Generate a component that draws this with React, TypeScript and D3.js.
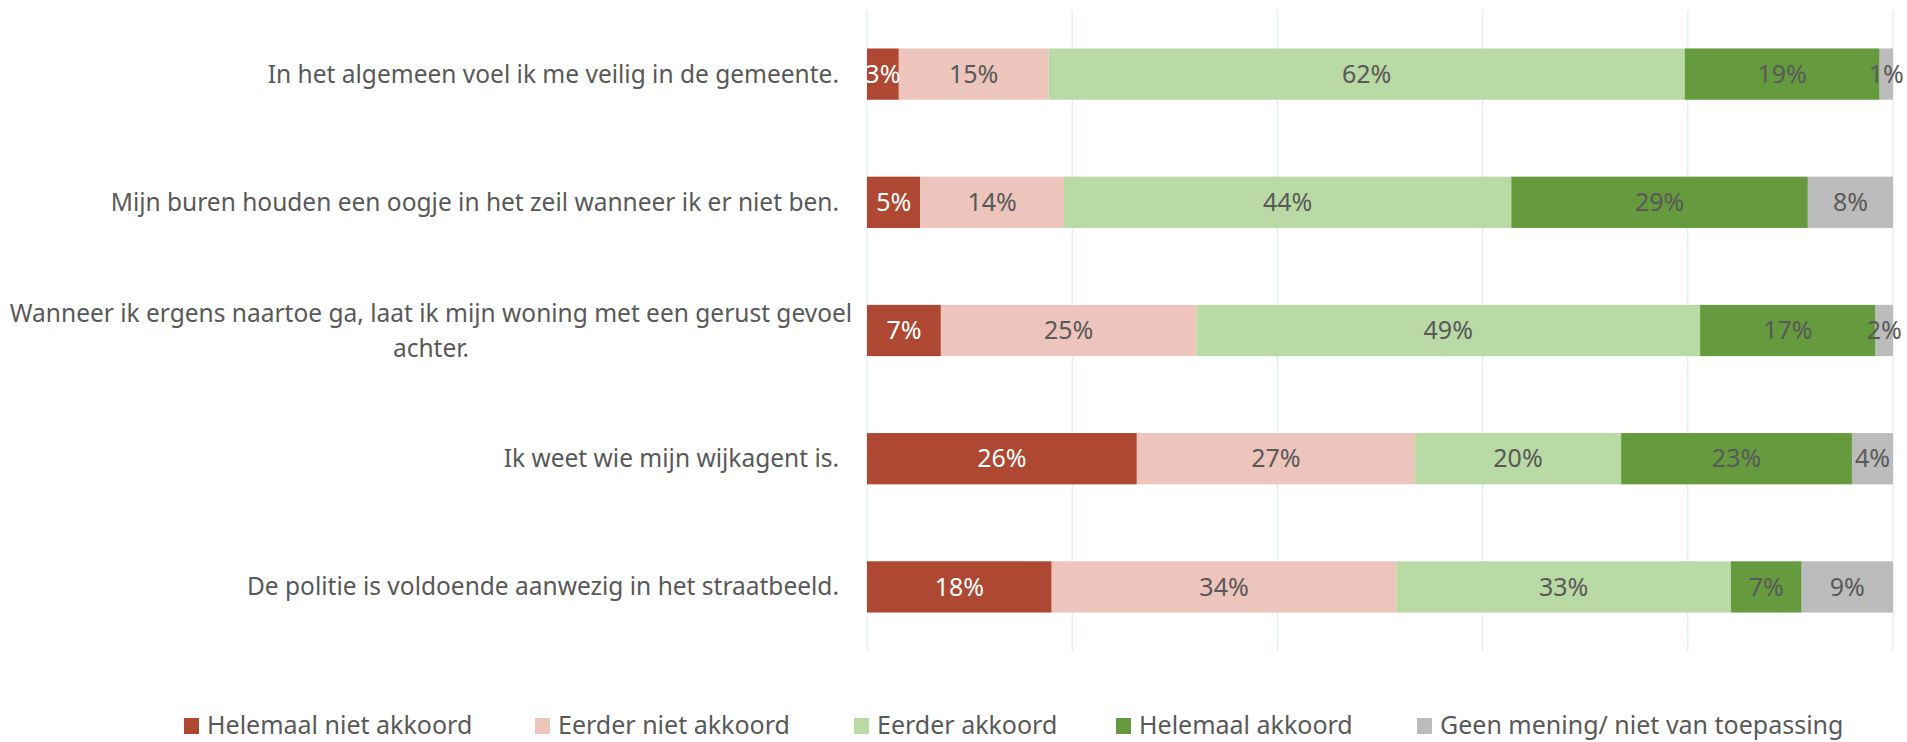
import React from "react";
import * as d3 from "d3";

const categories = [
  "In het algemeen voel ik me veilig in de gemeente.",
  "Mijn buren houden een oogje in het zeil wanneer ik er niet ben.",
  "Wanneer ik ergens naartoe ga, laat ik mijn woning met een gerust gevoel achter.",
  "Ik weet wie mijn wijkagent is.",
  "De politie is voldoende aanwezig in het straatbeeld.",
];
const categoryLines = [
  ["In het algemeen voel ik me veilig in de gemeente."],
  ["Mijn buren houden een oogje in het zeil wanneer ik er niet ben."],
  ["Wanneer ik ergens naartoe ga, laat ik mijn woning met een gerust gevoel", "achter."],
  ["Ik weet wie mijn wijkagent is."],
  ["De politie is voldoende aanwezig in het straatbeeld."],
];
const seriesNames = [
  "Helemaal niet akkoord",
  "Eerder niet akkoord",
  "Eerder akkoord",
  "Helemaal akkoord",
  "Geen mening/ niet van toepassing",
];
const helemaalNiet = [3.1, 5.2, 7.2, 26.3, 18.0];
const eerderNiet = [14.6, 14.0, 24.9, 27.1, 33.6];
const eerderAkkoord = [62.0, 43.6, 49.1, 20.1, 32.6];
const helemaalAkkoord = [19.0, 28.9, 17.1, 22.5, 6.9];
const geenMening = [1.3, 8.3, 1.7, 4.0, 8.9];
const xTicks = [0, 20, 40, 60, 80, 100];

const colors = ["#AE4832", "#EDC5BD", "#B9D9A5", "#659B3E", "#BCBCBC"];
const labelColors = ["#FFFFFF", "#595959", "#595959", "#595959", "#595959"];
const FONT = "'Noto Sans', 'Open Sans', sans-serif";

export default function App() {
  const W = 1907, H = 742;
  const x = d3.scaleLinear().domain([0, 100]).range([867, 1893]);
  const y = d3.scaleBand<string>().domain(categories).range([10, 651]).paddingInner(0.6).paddingOuter(0.3);
  const table = categories.map((c, i) => ({
    cat: c,
    s0: helemaalNiet[i],
    s1: eerderNiet[i],
    s2: eerderAkkoord[i],
    s3: helemaalAkkoord[i],
    s4: geenMening[i],
  }));
  const keys = ["s0", "s1", "s2", "s3", "s4"];
  const stack = d3.stack<any>().keys(keys)(table);
  const fmt = (v: number) => `${Math.round(v)}%`;

  const legendX = [184, 535, 854, 1116, 1417];

  return (
    <svg width={W} height={H} style={{ position: "absolute", left: 0, top: 0, display: "block", background: "#fff" }} fontFamily={FONT}>
      <rect x={0} y={0} width={W} height={H} fill="#fff" />
      {xTicks.map((t) => (
        <line key={t} x1={x(t)} x2={x(t)} y1={10} y2={651} stroke="#E2EFEF" strokeWidth={1.3} />
      ))}
      {stack.map((layer, si) => (
        <g key={si}>
          {layer.map((d, i) => {
            const x0 = x(d[0]);
            const x1 = x(d[1]);
            const yy = y(categories[i])!;
            return <rect key={i} x={x0} y={yy} width={x1 - x0} height={y.bandwidth()} fill={colors[si]} />;
          })}
        </g>
      ))}
      {stack.map((layer, si) => (
        <g key={"l" + si}>
          {layer.map((d, i) => {
            const x0 = x(d[0]);
            const x1 = x(d[1]);
            const yy = y(categories[i])! + y.bandwidth() / 2;
            return (
              <text key={i} x={(x0 + x1) / 2} y={yy} dy="0.35em" textAnchor="middle" fontSize={25} fill={labelColors[si]}>
                {fmt(d[1] - d[0])}
              </text>
            );
          })}
        </g>
      ))}
      {categoryLines.map((lines, i) => {
        const cy = y(categories[i])! + y.bandwidth() / 2;
        if (lines.length === 1) {
          return (
            <text key={i} x={839} y={cy} dy="0.35em" textAnchor="end" fontSize={24.5} fill="#595959">
              {lines[0]}
            </text>
          );
        }
        return (
          <text key={i} x={431} y={cy} textAnchor="middle" fontSize={24.5} fill="#595959">
            {lines.map((l, j) => (
              <tspan key={j} x={431} y={cy + (j - (lines.length - 1) / 2) * 35} dy="0.35em">
                {l}
              </tspan>
            ))}
          </text>
        );
      })}
      {seriesNames.map((n, i) => (
        <g key={n}>
          <rect x={legendX[i]} y={718} width={15} height={16} fill={colors[i]} />
          <text x={legendX[i] + 23} y={734} fontSize={25} fill="#595959">
            {n}
          </text>
        </g>
      ))}
    </svg>
  );
}
